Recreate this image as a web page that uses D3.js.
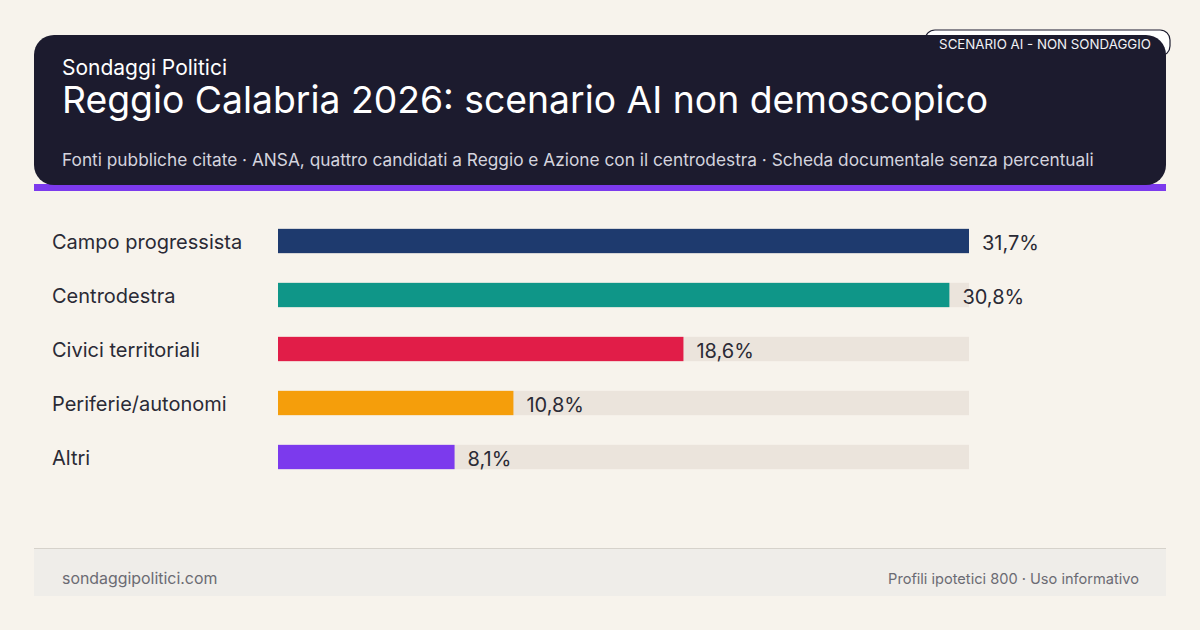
<!DOCTYPE html>
<html><head><meta charset="utf-8">
<script src="https://cdn.jsdelivr.net/npm/d3@7"></script>
<style>body{margin:0;background:#f7f3ec;font-family:Inter,sans-serif}</style>
</head><body><svg id="c" width="1200" height="630"></svg>
<script>
var categories = ["Campo progressista", "Centrodestra", "Civici territoriali", "Periferie/autonomi", "Altri"];
var values = [31.7, 30.8, 18.6, 10.8, 8.1];
var colors = ["#1e3a6e", "#0f9688", "#e11d48", "#f59e0b", "#7c3aed"];

var svg = d3.select("#c");
svg.append("rect").attr("width", 1200).attr("height", 630).attr("fill", "#f7f3ec");

// badge behind header
svg.append("rect").attr("x", 925).attr("y", 30).attr("width", 245).attr("height", 26).attr("rx", 10)
  .attr("fill", "#ffffff").attr("stroke", "#1c1b2e").attr("stroke-width", 1.2);

// header
svg.append("rect").attr("x", 34).attr("y", 184).attr("width", 1132).attr("height", 7).attr("fill", "#7c3aed");
svg.append("rect").attr("x", 34).attr("y", 35).attr("width", 1132).attr("height", 150).attr("rx", 20).attr("fill", "#1c1b2e");
svg.append("text").attr("x", 1151).attr("y", 49).attr("text-anchor", "end").attr("font-size", 13.3)
  .attr("fill", "#f1f1f5").text("SCENARIO AI - NON SONDAGGIO");
svg.append("text").attr("x", 62).attr("y", 75).attr("font-size", 21).attr("fill", "#ffffff").text("Sondaggi Politici");
svg.append("text").attr("x", 62).attr("y", 113).attr("font-size", 37.3).attr("fill", "#ffffff")
  .text("Reggio Calabria 2026: scenario AI non demoscopico");
svg.append("text").attr("x", 62).attr("y", 166).attr("font-size", 17.3).attr("fill", "#d4d4de")
  .text("Fonti pubbliche citate · ANSA, quattro candidati a Reggio e Azione con il centrodestra · Scheda documentale senza percentuali");

// bars
var x = d3.scaleLinear().domain([0, d3.max(values)]).range([278, 969]);
var y = d3.scaleBand().domain(categories).range([214, 484]).paddingInner(0.55).paddingOuter(0.275);

var g = svg.append("g");
g.selectAll(".track").data(categories).enter().append("rect")
  .attr("x", x(0)).attr("y", d => y(d)).attr("width", x(d3.max(values)) - x(0)).attr("height", y.bandwidth())
  .attr("fill", "#ebe4dc");
g.selectAll(".bar").data(values).enter().append("rect")
  .attr("x", x(0)).attr("y", (d, i) => y(categories[i])).attr("width", d => x(d) - x(0)).attr("height", y.bandwidth())
  .attr("fill", (d, i) => colors[i]);
g.selectAll(".lab").data(categories).enter().append("text")
  .attr("x", 52).attr("y", d => y(d) + y.bandwidth() / 2 + 8).attr("font-size", 20).attr("fill", "#2a2a35").text(d => d);
g.selectAll(".val").data(values).enter().append("text")
  .attr("x", d => x(d) + 13).attr("y", (d, i) => y(categories[i]) + y.bandwidth() / 2 + 9)
  .attr("font-size", 20).attr("fill", "#2a2a35").text(d => d.toFixed(1).replace(".", ",") + "%");

// footer
svg.append("rect").attr("x", 34).attr("y", 548).attr("width", 1132).attr("height", 48).attr("fill", "#efede9");
svg.append("line").attr("x1", 34).attr("x2", 1166).attr("y1", 548.5).attr("y2", 548.5).attr("stroke", "#d6d2cb");
svg.append("text").attr("x", 62).attr("y", 584).attr("font-size", 15.9).attr("fill", "#6b6b73").text("sondaggipolitici.com");
svg.append("text").attr("x", 1139).attr("y", 584).attr("text-anchor", "end").attr("font-size", 14.6).attr("fill", "#6b6b73")
  .text("Profili ipotetici 800 · Uso informativo");
</script></body></html>
